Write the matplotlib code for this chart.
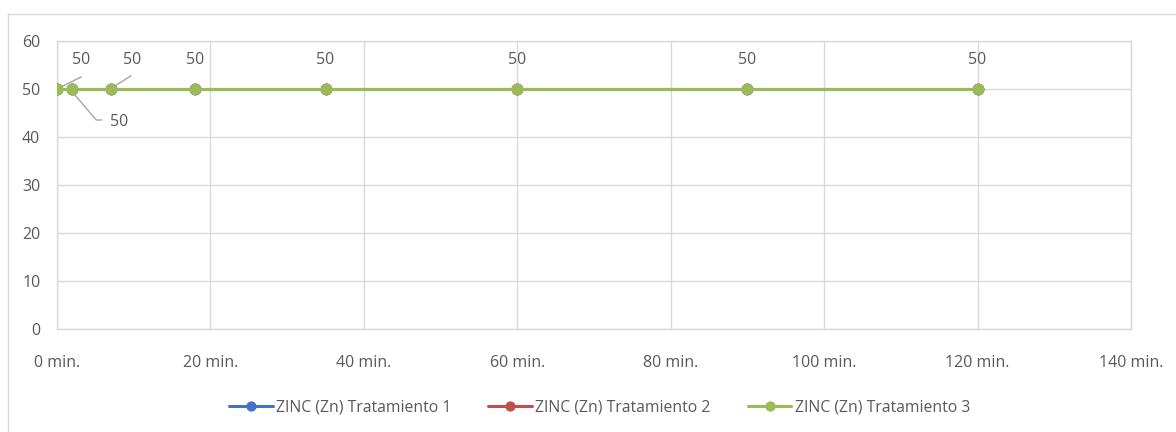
import matplotlib
matplotlib.use("Agg")
import matplotlib.pyplot as plt
from matplotlib.lines import Line2D
from matplotlib.transforms import ScaledTranslation

plt.rcParams['font.family'] = ['Open Sans', 'DejaVu Sans']

# Sampling times (minutes) and zinc readings per treatment
minutes = [0, 2, 7, 18, 35, 60, 90, 120]
zinc_t1 = [50, 50, 50, 50, 50, 50, 50, 50]
zinc_t2 = [50, 50, 50, 50, 50, 50, 50, 50]
zinc_t3 = [50, 50, 50, 50, 50, 50, 50, 50]
series_names = ["ZINC (Zn) Tratamiento 1", "ZINC (Zn) Tratamiento 2", "ZINC (Zn) Tratamiento 3"]
series_colors = ["#4472c4", "#c0504d", "#9bbb59"]
x_ticks = [0, 20, 40, 60, 80, 100, 120, 140]
y_ticks = [0, 10, 20, 30, 40, 50, 60]

TXT = "#595959"
GRID = "#d9d9d9"
FS = 11.5

fig = plt.figure(figsize=(11.76, 4.32), dpi=100)
ax = fig.add_axes([57 / 1176, 1 - 329 / 432, (1131 - 57) / 1176, (329 - 41) / 432])

for vals, name, col in zip([zinc_t1, zinc_t2, zinc_t3], series_names, series_colors):
    ax.plot(minutes, vals, color=col, lw=2.2, marker="o", markersize=7.5,
            solid_capstyle="round", label=name, zorder=3)

ax.set_xlim(0, 140)
ax.set_ylim(0, 60)
ax.set_xticks(x_ticks)
ax.set_xticklabels([f"{t} min." for t in x_ticks])
ax.set_yticks(y_ticks)
ax.tick_params(length=0, labelsize=FS, colors=TXT)
ax.tick_params(axis="x", pad=19)
ax.tick_params(axis="y", pad=12)
ax.grid(True, color=GRID, lw=1)
ax.set_axisbelow(True)
for s in ax.spines.values():
    s.set_color(GRID)
    s.set_linewidth(1)

# Data labels (last series) with pixel offsets and leader lines
label_offsets = [(24, 29), (47, -33), (21, 29), (0, 29), (0, 29), (0, 29), (0, 29), (0, 29)]
leaders = {
    0: ([2, 24], [1, 12]),
    1: ([0, 24, 29], [-3, -31, -31]),
    2: ([1, 20], [1, 13]),
}
for i, (x, y) in enumerate(zip(minutes, zinc_t3)):
    dx, dy = label_offsets[i]
    ax.annotate(f"{y}", xy=(x, y), xytext=(dx, dy), textcoords="offset pixels",
                ha="center", va="center", fontsize=FS, color=TXT, zorder=5)
    if i in leaders:
        lx, ly = leaders[i]
        ax.add_line(Line2D(lx, ly, color="#a6a6a6", lw=1,
                           transform=ScaledTranslation(x, y, ax.transData), zorder=2))

leg = ax.legend(loc="center", bbox_to_anchor=(0.505, (407 - 329) / -288), ncol=3,
                frameon=False, fontsize=11.3, handlelength=2.8, columnspacing=2.35,
                handletextpad=0.2, markerscale=0.85)
for t in leg.get_texts():
    t.set_color(TXT)

# Outer chart frame
fig.add_artist(Line2D([8 / 1176, 1.0], [1 - 14 / 432, 1 - 14 / 432], color=GRID, lw=1,
                      transform=fig.transFigure))
fig.add_artist(Line2D([8 / 1176, 8 / 1176], [0, 1 - 14 / 432], color=GRID, lw=1,
                      transform=fig.transFigure))

fig.savefig("out.png", dpi=100, facecolor="white")
